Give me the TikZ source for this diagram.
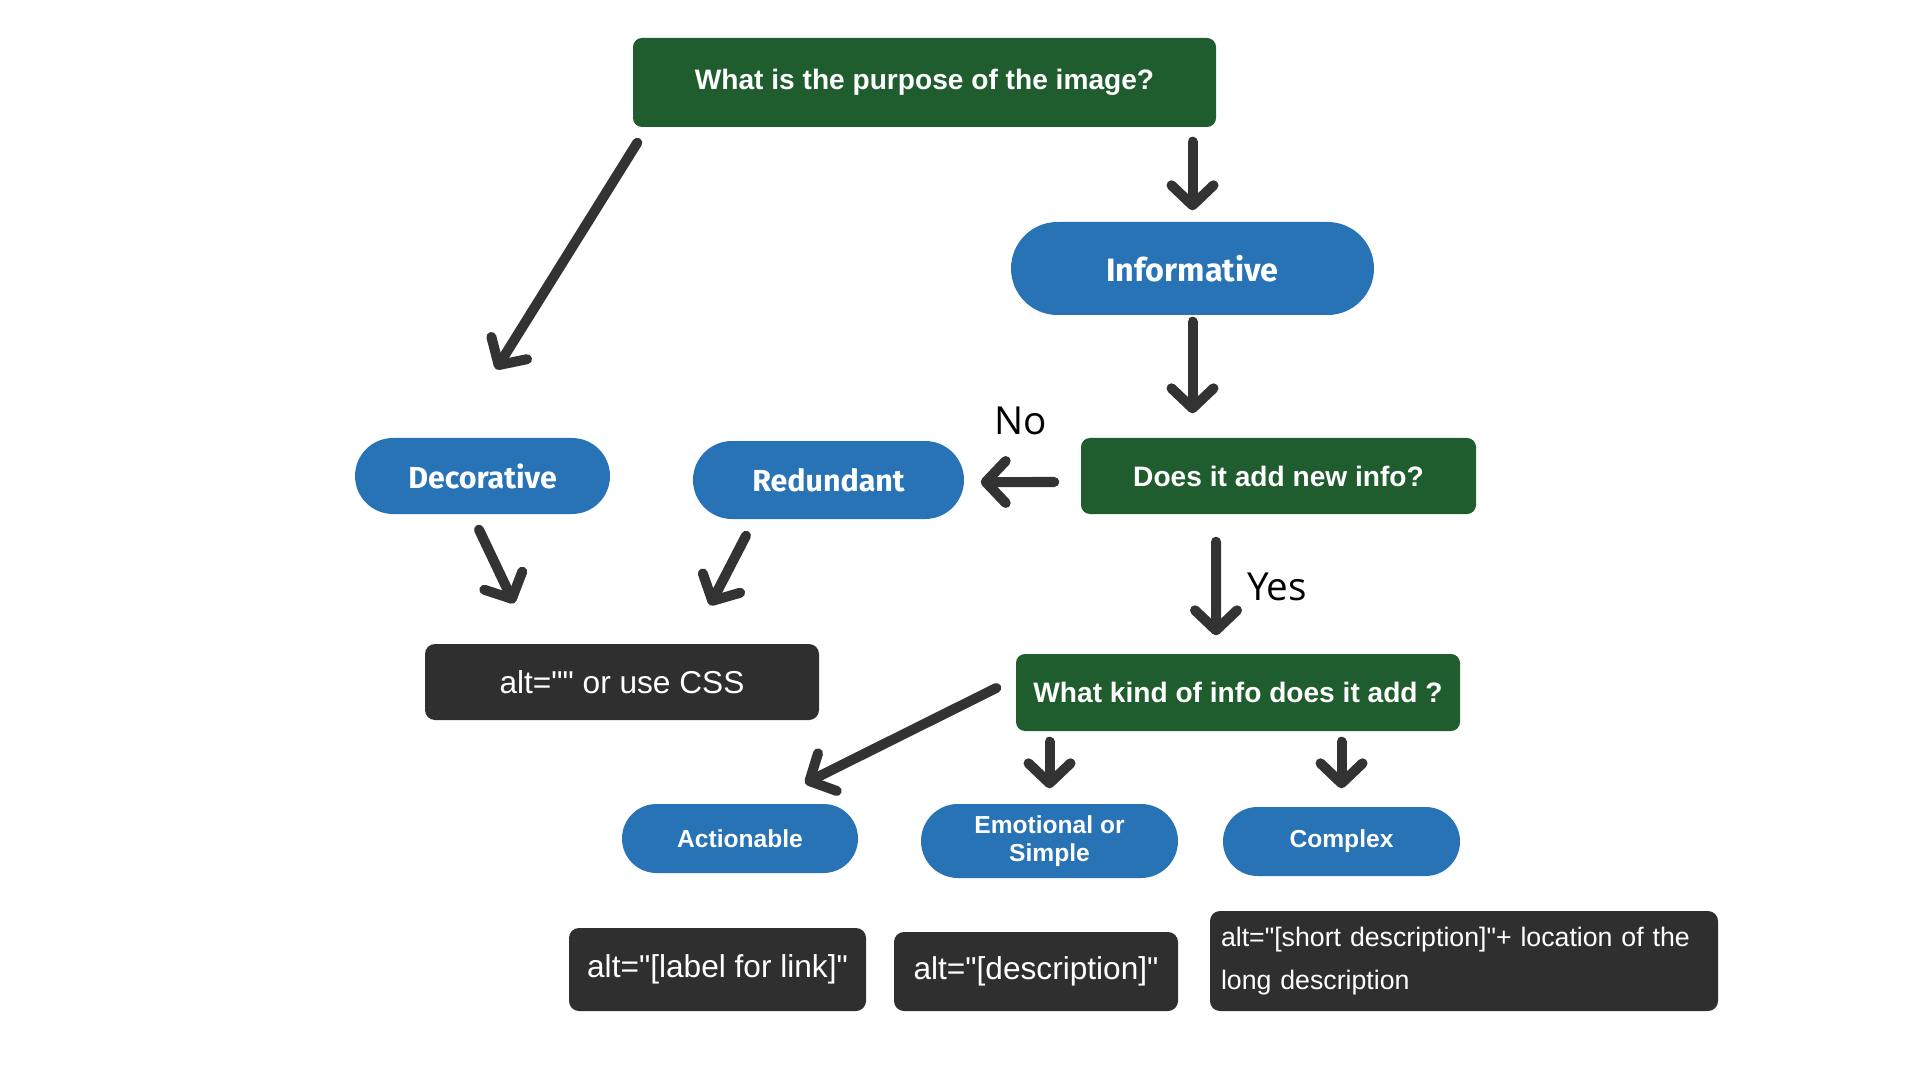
\documentclass[tikz,border=0pt]{standalone}
\usepackage{fontspec}
\setmainfont{Liberation Sans}
\newfontfamily\altfont{Liberation Sans}
\newfontfamily\pillfont{Fira Sans}
\newfontfamily\markfont{Open Sans}
\usepackage{tikz}
\usetikzlibrary{shapes.misc, positioning, arrows.meta, calc}
\definecolor{AltGreen}{RGB}{31,92,46}
\definecolor{AltBlue}{RGB}{39,115,182}
\definecolor{AltDark}{RGB}{47,47,47}
\definecolor{AltArrow}{RGB}{51,51,51}

\begin{document}
\begin{tikzpicture}[
    qbox/.style={rectangle, rounded corners=0.09cm, fill=AltGreen, text=white,
                 inner sep=0pt, font=\fontsize{8}{9.6}\selectfont\bfseries},
    pill/.style={rounded rectangle, fill=AltBlue, text=white, inner sep=0pt,
                 align=center},
    altbox/.style={rectangle, rounded corners=0.1cm, fill=AltDark, text=white,
                   inner sep=0pt, font=\altfont\fontsize{9}{10.8}\selectfont},
    arr/.style={-{Straight Barb[length=0.2cm, width=0.42cm, line cap=round,
                line join=round]}, line width=0.1cm, line cap=round, AltArrow},
    choicelabel/.style={font=\markfont\fontsize{11}{13}\selectfont, text=black}
  ]
  \useasboundingbox (0,0) rectangle (19.2,-10.8);

  % Questions
  \node[qbox, minimum width=5.83cm, minimum height=0.89cm] (purpose) at (9.245,-0.825)
        {What is the purpose of the image?};
  \node[qbox, minimum width=3.95cm, minimum height=0.76cm] (decide) at (12.785,-4.76)
        {Does it add new info?};
  \node[qbox, minimum width=4.44cm, minimum height=0.77cm] (kind) at (12.38,-6.925)
        {What kind of info does it add ?};

  % Image kinds
  \node[pill, minimum width=3.63cm, minimum height=0.93cm,
        font=\pillfont\fontsize{9.2}{11}\selectfont\bfseries] (info) at (11.925,-2.685) {Informative};
  \node[pill, minimum width=2.71cm, minimum height=0.78cm,
        font=\pillfont\fontsize{8.65}{10}\selectfont\bfseries] (redun) at (8.285,-4.80) {Redundant};
  \node[pill, minimum width=2.55cm, minimum height=0.76cm,
        font=\pillfont\fontsize{8.65}{10}\selectfont\bfseries] (deco) at (4.825,-4.76) {Decorative};
  \node[pill, minimum width=2.36cm, minimum height=0.69cm,
        font=\fontsize{7}{8}\selectfont\bfseries] (action) at (7.40,-8.385) {Actionable};
  \node[pill, minimum width=2.57cm, minimum height=0.74cm,
        font=\fontsize{7}{8}\selectfont\bfseries] (emo) at (10.495,-8.41) {Emotional or\\Simple};
  \node[pill, minimum width=2.37cm, minimum height=0.69cm,
        font=\fontsize{7}{8}\selectfont\bfseries] (cplx) at (13.415,-8.415) {Complex};

  % Alt texts
  \node[altbox, minimum width=3.94cm, minimum height=0.76cm] (altnone) at (6.22,-6.82)
        {alt="" or use CSS};
  \node[altbox, minimum width=2.97cm, minimum height=0.83cm] (altlink) at (7.175,-9.695)
        {alt="[label for link]"};
  \node[altbox, minimum width=2.84cm, minimum height=0.79cm] (altdesc) at (10.36,-9.715)
        {alt="[description]"};
  \node[altbox, minimum width=5.08cm, minimum height=1.00cm, align=left,
        text width=4.86cm, font=\altfont\fontsize{7.6}{12.2}\selectfont] (altlong) at (14.64,-9.61)
        {alt="[short description]"+ location of the\\long description};

  % Arrows
  \draw[arr] ([shift={(0.05,-0.15)}]purpose.south west) -- ([shift={(0.135,0.68)}]deco.north);
  \draw[arr] ([yshift=-0.14cm]purpose.south -| info.north) -- ([yshift=0.11cm]info.north);
  \draw[arr] ([yshift=-0.06cm]info.south) -- ([yshift=0.24cm]info.south |- decide.north);
  \draw[arr] ([shift={(-0.26,-0.06)}]decide.west) -- ([shift={(0.16,-0.02)}]redun.east);
  \draw[arr] ([shift={(-0.625,-0.27)}]decide.south) -- ([shift={(-0.22,0.18)}]kind.north);
  \draw[arr] ([shift={(-0.035,-0.15)}]deco.south) -- ([shift={(-1.08,0.40)}]altnone.north);
  \draw[arr] ([shift={(-0.825,-0.16)}]redun.south) -- ([shift={(0.88,0.38)}]altnone.north);
  \draw[arr] ([shift={(-0.19,0.045)}]kind.west) -- ([shift={(0.65,0.20)}]action.north);
  \draw[arr] ([yshift=-0.1cm]kind.south -| emo.north) -- ([yshift=0.15cm]emo.north);
  \draw[arr] ([yshift=-0.1cm]kind.south -| cplx.north) -- ([yshift=0.18cm]cplx.north);

  \node[choicelabel] (no) at (10.21,-4.21) {No};
  \node[choicelabel] (yes) at (12.77,-5.87) {Yes};
\end{tikzpicture}
\end{document}
